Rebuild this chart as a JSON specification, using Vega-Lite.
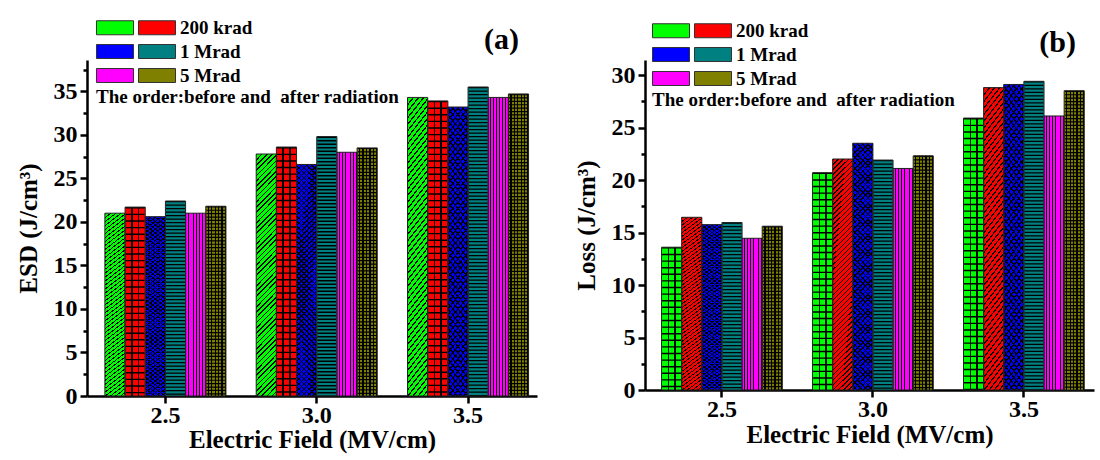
{
"$schema":"https://vega.github.io/schema/vega-lite/v6.json",
"padding":{"left":16,"top":17,"right":5,"bottom":5},
"datasets":{"d":[
{"p":"a","f":"2.5","s":"200 krad before","v":21.0},{"p":"a","f":"2.5","s":"200 krad after","v":21.7},{"p":"a","f":"2.5","s":"1 Mrad before","v":20.6},{"p":"a","f":"2.5","s":"1 Mrad after","v":22.4},{"p":"a","f":"2.5","s":"5 Mrad before","v":21.0},{"p":"a","f":"2.5","s":"5 Mrad after","v":21.8},
{"p":"a","f":"3.0","s":"200 krad before","v":27.8},{"p":"a","f":"3.0","s":"200 krad after","v":28.6},{"p":"a","f":"3.0","s":"1 Mrad before","v":26.6},{"p":"a","f":"3.0","s":"1 Mrad after","v":29.8},{"p":"a","f":"3.0","s":"5 Mrad before","v":28.0},{"p":"a","f":"3.0","s":"5 Mrad after","v":28.5},
{"p":"a","f":"3.5","s":"200 krad before","v":34.3},{"p":"a","f":"3.5","s":"200 krad after","v":33.9},{"p":"a","f":"3.5","s":"1 Mrad before","v":33.2},{"p":"a","f":"3.5","s":"1 Mrad after","v":35.5},{"p":"a","f":"3.5","s":"5 Mrad before","v":34.3},{"p":"a","f":"3.5","s":"5 Mrad after","v":34.7},
{"p":"b","f":"2.5","s":"200 krad before","v":13.6},{"p":"b","f":"2.5","s":"200 krad after","v":16.45},{"p":"b","f":"2.5","s":"1 Mrad before","v":15.75},{"p":"b","f":"2.5","s":"1 Mrad after","v":15.95},{"p":"b","f":"2.5","s":"5 Mrad before","v":14.45},{"p":"b","f":"2.5","s":"5 Mrad after","v":15.6},
{"p":"b","f":"3.0","s":"200 krad before","v":20.7},{"p":"b","f":"3.0","s":"200 krad after","v":22.0},{"p":"b","f":"3.0","s":"1 Mrad before","v":23.5},{"p":"b","f":"3.0","s":"1 Mrad after","v":21.9},{"p":"b","f":"3.0","s":"5 Mrad before","v":21.1},{"p":"b","f":"3.0","s":"5 Mrad after","v":22.3},
{"p":"b","f":"3.5","s":"200 krad before","v":25.9},{"p":"b","f":"3.5","s":"200 krad after","v":28.8},{"p":"b","f":"3.5","s":"1 Mrad before","v":29.1},{"p":"b","f":"3.5","s":"1 Mrad after","v":29.4},{"p":"b","f":"3.5","s":"5 Mrad before","v":26.1},{"p":"b","f":"3.5","s":"5 Mrad after","v":28.5}
]},
"spacing":37,
"resolve":{"scale":{"color":"independent","y":"independent","x":"independent","xOffset":"independent"},"legend":{"color":"independent"},"axis":{"x":"independent","y":"independent"}},
"hconcat":[
{
"width":450,"height":336,
"title":{"text":"(a)","dx":-18,"dy":42},
"data":{"name":"d"},
"transform":[{"filter":"datum.p==='a'"}],
"encoding":{
"x":{"field":"f","type":"nominal","sort":null,"scale":{"paddingInner":0.2,"paddingOuter":0.087,"align":0.68},"axis":{"title":"Electric Field (MV/cm)","labelAngle":0,"tickSize":7,"labelPadding":0,"titlePadding":0}},
"xOffset":{"field":"s","type":"nominal","scale":{"domain":["200 krad before","200 krad after","1 Mrad before","1 Mrad after","5 Mrad before","5 Mrad after"],"paddingInner":0,"paddingOuter":0}},
"y":{"field":"v","type":"quantitative","scale":{"domain":[0,38.6],"nice":false},"axis":{"title":"ESD (J/cm³)","values":[0,2.5,5,7.5,10,12.5,15,17.5,20,22.5,25,27.5,30,32.5,35,37.5],"labelExpr":"datum.value % 5 === 0 ? datum.label : ''","tickSize":{"condition":{"test":"datum.value % 5 === 0","value":7},"value":4},"labelPadding":3,"titlePadding":12}}
},
"layer":[
{"mark":{"type":"bar"},"encoding":{"color":{"field":"s","type":"nominal","scale":{"domain":["200 krad before","1 Mrad before","5 Mrad before","200 krad after","1 Mrad after","5 Mrad after"],"range":["#00ff00","#0000ff","#ff00ff","#ff0000","#008080","#808000"]},"legend":{"orient":"none","legendX":9,"legendY":-43,"columns":2,"symbolType":"M-1,-0.7H2.7V0.7H-1Z","symbolSize":400,"labelOffset":21,"columnPadding":-4,"rowPadding":3,"padding":0,"labelFont":"Liberation Serif","labelFontWeight":"bold","labelFontSize":19,"labelColor":"#000","labelExpr":"indexof(datum.label,'after') > 0 ? replace(datum.label,' after','') : ''","title":"The order:before and\u00a0 after radiation","titleOrient":"bottom","titleLimit":600,"titleFont":"Liberation Serif","titleFontSize":19,"titleFontWeight":"bold","titleColor":"#000","titlePadding":2,"symbolOpacity":1,"symbolStrokeColor":"#333","symbolStrokeWidth":1,"encode":{"symbols":{"update":{"stroke":{"value":"#333"},"strokeWidth":{"value":1}}}}}}}},
{"transform":[{"filter":"datum.s==='5 Mrad before'"}],"mark":{"type":"bar","fill":{"gradient":"linear","x1":0,"y1":0,"x2":1,"y2":0,"stops":[{"offset":0.1,"color":"transparent"},{"offset":0.1,"color":"#000"},{"offset":0.145,"color":"#000"},{"offset":0.145,"color":"transparent"},{"offset":0.243,"color":"transparent"},{"offset":0.243,"color":"#000"},{"offset":0.288,"color":"#000"},{"offset":0.288,"color":"transparent"},{"offset":0.386,"color":"transparent"},{"offset":0.386,"color":"#000"},{"offset":0.431,"color":"#000"},{"offset":0.431,"color":"transparent"},{"offset":0.529,"color":"transparent"},{"offset":0.529,"color":"#000"},{"offset":0.574,"color":"#000"},{"offset":0.574,"color":"transparent"},{"offset":0.671,"color":"transparent"},{"offset":0.671,"color":"#000"},{"offset":0.716,"color":"#000"},{"offset":0.716,"color":"transparent"},{"offset":0.814,"color":"transparent"},{"offset":0.814,"color":"#000"},{"offset":0.859,"color":"#000"},{"offset":0.859,"color":"transparent"},{"offset":0.957,"color":"transparent"},{"offset":0.957,"color":"#000"},{"offset":1,"color":"#000"}]}}},
{"transform":[{"filter":"datum.s==='5 Mrad after'"}],"mark":{"type":"bar","fill":{"gradient":"linear","x1":0,"y1":0,"x2":1,"y2":0,"stops":[{"offset":0.1,"color":"transparent"},{"offset":0.1,"color":"#000"},{"offset":0.165,"color":"#000"},{"offset":0.165,"color":"transparent"},{"offset":0.267,"color":"transparent"},{"offset":0.267,"color":"#000"},{"offset":0.332,"color":"#000"},{"offset":0.332,"color":"transparent"},{"offset":0.433,"color":"transparent"},{"offset":0.433,"color":"#000"},{"offset":0.498,"color":"#000"},{"offset":0.498,"color":"transparent"},{"offset":0.6,"color":"transparent"},{"offset":0.6,"color":"#000"},{"offset":0.665,"color":"#000"},{"offset":0.665,"color":"transparent"},{"offset":0.767,"color":"transparent"},{"offset":0.767,"color":"#000"},{"offset":0.832,"color":"#000"},{"offset":0.832,"color":"transparent"},{"offset":0.933,"color":"transparent"},{"offset":0.933,"color":"#000"},{"offset":0.998,"color":"#000"},{"offset":0.998,"color":"transparent"}]}}},
{"transform":[{"filter":"datum.s==='200 krad after'"}],"mark":{"type":"bar","fill":{"gradient":"linear","x1":0,"y1":0,"x2":1,"y2":0,"stops":[{"offset":0.3,"color":"transparent"},{"offset":0.3,"color":"#000"},{"offset":0.37,"color":"#000"},{"offset":0.37,"color":"transparent"},{"offset":0.63,"color":"transparent"},{"offset":0.63,"color":"#000"},{"offset":0.7,"color":"#000"},{"offset":0.7,"color":"transparent"}]}}},
{"transform":[{"filter":"datum.s==='200 krad before' || datum.s==='1 Mrad before'"}],"mark":{"type":"bar","fill":{"gradient":"linear","x1":0,"y1":0,"x2":0.0917,"y2":1.0773,"stops":[
{"offset":0,"color":"#000"},{"offset":0.006,"color":"#000"},{"offset":0.006,"color":"transparent"},{"offset":0.02,"color":"transparent"},
{"offset":0.02,"color":"#000"},{"offset":0.026,"color":"#000"},{"offset":0.026,"color":"transparent"},{"offset":0.04,"color":"transparent"},
{"offset":0.04,"color":"#000"},{"offset":0.046,"color":"#000"},{"offset":0.046,"color":"transparent"},{"offset":0.06,"color":"transparent"},
{"offset":0.06,"color":"#000"},{"offset":0.066,"color":"#000"},{"offset":0.066,"color":"transparent"},{"offset":0.08,"color":"transparent"},
{"offset":0.08,"color":"#000"},{"offset":0.086,"color":"#000"},{"offset":0.086,"color":"transparent"},{"offset":0.1,"color":"transparent"},
{"offset":0.1,"color":"#000"},{"offset":0.106,"color":"#000"},{"offset":0.106,"color":"transparent"},{"offset":0.12,"color":"transparent"},
{"offset":0.12,"color":"#000"},{"offset":0.126,"color":"#000"},{"offset":0.126,"color":"transparent"},{"offset":0.14,"color":"transparent"},
{"offset":0.14,"color":"#000"},{"offset":0.146,"color":"#000"},{"offset":0.146,"color":"transparent"},{"offset":0.16,"color":"transparent"},
{"offset":0.16,"color":"#000"},{"offset":0.166,"color":"#000"},{"offset":0.166,"color":"transparent"},{"offset":0.18,"color":"transparent"},
{"offset":0.18,"color":"#000"},{"offset":0.186,"color":"#000"},{"offset":0.186,"color":"transparent"},{"offset":0.2,"color":"transparent"},
{"offset":0.2,"color":"#000"},{"offset":0.206,"color":"#000"},{"offset":0.206,"color":"transparent"},{"offset":0.22,"color":"transparent"},
{"offset":0.22,"color":"#000"},{"offset":0.226,"color":"#000"},{"offset":0.226,"color":"transparent"},{"offset":0.24,"color":"transparent"},
{"offset":0.24,"color":"#000"},{"offset":0.246,"color":"#000"},{"offset":0.246,"color":"transparent"},{"offset":0.26,"color":"transparent"},
{"offset":0.26,"color":"#000"},{"offset":0.266,"color":"#000"},{"offset":0.266,"color":"transparent"},{"offset":0.28,"color":"transparent"},
{"offset":0.28,"color":"#000"},{"offset":0.286,"color":"#000"},{"offset":0.286,"color":"transparent"},{"offset":0.3,"color":"transparent"},
{"offset":0.3,"color":"#000"},{"offset":0.306,"color":"#000"},{"offset":0.306,"color":"transparent"},{"offset":0.32,"color":"transparent"},
{"offset":0.32,"color":"#000"},{"offset":0.326,"color":"#000"},{"offset":0.326,"color":"transparent"},{"offset":0.34,"color":"transparent"},
{"offset":0.34,"color":"#000"},{"offset":0.346,"color":"#000"},{"offset":0.346,"color":"transparent"},{"offset":0.36,"color":"transparent"},
{"offset":0.36,"color":"#000"},{"offset":0.366,"color":"#000"},{"offset":0.366,"color":"transparent"},{"offset":0.38,"color":"transparent"},
{"offset":0.38,"color":"#000"},{"offset":0.386,"color":"#000"},{"offset":0.386,"color":"transparent"},{"offset":0.4,"color":"transparent"},
{"offset":0.4,"color":"#000"},{"offset":0.406,"color":"#000"},{"offset":0.406,"color":"transparent"},{"offset":0.42,"color":"transparent"},
{"offset":0.42,"color":"#000"},{"offset":0.426,"color":"#000"},{"offset":0.426,"color":"transparent"},{"offset":0.44,"color":"transparent"},
{"offset":0.44,"color":"#000"},{"offset":0.446,"color":"#000"},{"offset":0.446,"color":"transparent"},{"offset":0.46,"color":"transparent"},
{"offset":0.46,"color":"#000"},{"offset":0.466,"color":"#000"},{"offset":0.466,"color":"transparent"},{"offset":0.48,"color":"transparent"},
{"offset":0.48,"color":"#000"},{"offset":0.486,"color":"#000"},{"offset":0.486,"color":"transparent"},{"offset":0.5,"color":"transparent"},
{"offset":0.5,"color":"#000"},{"offset":0.506,"color":"#000"},{"offset":0.506,"color":"transparent"},{"offset":0.52,"color":"transparent"},
{"offset":0.52,"color":"#000"},{"offset":0.526,"color":"#000"},{"offset":0.526,"color":"transparent"},{"offset":0.54,"color":"transparent"},
{"offset":0.54,"color":"#000"},{"offset":0.546,"color":"#000"},{"offset":0.546,"color":"transparent"},{"offset":0.56,"color":"transparent"},
{"offset":0.56,"color":"#000"},{"offset":0.566,"color":"#000"},{"offset":0.566,"color":"transparent"},{"offset":0.58,"color":"transparent"},
{"offset":0.58,"color":"#000"},{"offset":0.586,"color":"#000"},{"offset":0.586,"color":"transparent"},{"offset":0.6,"color":"transparent"},
{"offset":0.6,"color":"#000"},{"offset":0.606,"color":"#000"},{"offset":0.606,"color":"transparent"},{"offset":0.62,"color":"transparent"},
{"offset":0.62,"color":"#000"},{"offset":0.626,"color":"#000"},{"offset":0.626,"color":"transparent"},{"offset":0.64,"color":"transparent"},
{"offset":0.64,"color":"#000"},{"offset":0.646,"color":"#000"},{"offset":0.646,"color":"transparent"},{"offset":0.66,"color":"transparent"},
{"offset":0.66,"color":"#000"},{"offset":0.666,"color":"#000"},{"offset":0.666,"color":"transparent"},{"offset":0.68,"color":"transparent"},
{"offset":0.68,"color":"#000"},{"offset":0.686,"color":"#000"},{"offset":0.686,"color":"transparent"},{"offset":0.7,"color":"transparent"},
{"offset":0.7,"color":"#000"},{"offset":0.706,"color":"#000"},{"offset":0.706,"color":"transparent"},{"offset":0.72,"color":"transparent"},
{"offset":0.72,"color":"#000"},{"offset":0.726,"color":"#000"},{"offset":0.726,"color":"transparent"},{"offset":0.74,"color":"transparent"},
{"offset":0.74,"color":"#000"},{"offset":0.746,"color":"#000"},{"offset":0.746,"color":"transparent"},{"offset":0.76,"color":"transparent"},
{"offset":0.76,"color":"#000"},{"offset":0.766,"color":"#000"},{"offset":0.766,"color":"transparent"},{"offset":0.78,"color":"transparent"},
{"offset":0.78,"color":"#000"},{"offset":0.786,"color":"#000"},{"offset":0.786,"color":"transparent"},{"offset":0.8,"color":"transparent"},
{"offset":0.8,"color":"#000"},{"offset":0.806,"color":"#000"},{"offset":0.806,"color":"transparent"},{"offset":0.82,"color":"transparent"},
{"offset":0.82,"color":"#000"},{"offset":0.826,"color":"#000"},{"offset":0.826,"color":"transparent"},{"offset":0.84,"color":"transparent"},
{"offset":0.84,"color":"#000"},{"offset":0.846,"color":"#000"},{"offset":0.846,"color":"transparent"},{"offset":0.86,"color":"transparent"},
{"offset":0.86,"color":"#000"},{"offset":0.866,"color":"#000"},{"offset":0.866,"color":"transparent"},{"offset":0.88,"color":"transparent"},
{"offset":0.88,"color":"#000"},{"offset":0.886,"color":"#000"},{"offset":0.886,"color":"transparent"},{"offset":0.9,"color":"transparent"},
{"offset":0.9,"color":"#000"},{"offset":0.906,"color":"#000"},{"offset":0.906,"color":"transparent"},{"offset":0.92,"color":"transparent"},
{"offset":0.92,"color":"#000"},{"offset":0.926,"color":"#000"},{"offset":0.926,"color":"transparent"},{"offset":0.94,"color":"transparent"},
{"offset":0.94,"color":"#000"},{"offset":0.946,"color":"#000"},{"offset":0.946,"color":"transparent"},{"offset":0.96,"color":"transparent"},
{"offset":0.96,"color":"#000"},{"offset":0.966,"color":"#000"},{"offset":0.966,"color":"transparent"},{"offset":0.98,"color":"transparent"},
{"offset":0.98,"color":"#000"},{"offset":0.986,"color":"#000"},{"offset":0.986,"color":"transparent"},{"offset":1,"color":"transparent"}
]}}},
{"transform":[{"filter":"datum.s==='1 Mrad before'"}],"mark":{"type":"bar","fill":{"gradient":"linear","x1":1,"y1":0,"x2":0.9083,"y2":1.0773,"stops":[
{"offset":0,"color":"#000"},{"offset":0.006,"color":"#000"},{"offset":0.006,"color":"transparent"},{"offset":0.02,"color":"transparent"},
{"offset":0.02,"color":"#000"},{"offset":0.026,"color":"#000"},{"offset":0.026,"color":"transparent"},{"offset":0.04,"color":"transparent"},
{"offset":0.04,"color":"#000"},{"offset":0.046,"color":"#000"},{"offset":0.046,"color":"transparent"},{"offset":0.06,"color":"transparent"},
{"offset":0.06,"color":"#000"},{"offset":0.066,"color":"#000"},{"offset":0.066,"color":"transparent"},{"offset":0.08,"color":"transparent"},
{"offset":0.08,"color":"#000"},{"offset":0.086,"color":"#000"},{"offset":0.086,"color":"transparent"},{"offset":0.1,"color":"transparent"},
{"offset":0.1,"color":"#000"},{"offset":0.106,"color":"#000"},{"offset":0.106,"color":"transparent"},{"offset":0.12,"color":"transparent"},
{"offset":0.12,"color":"#000"},{"offset":0.126,"color":"#000"},{"offset":0.126,"color":"transparent"},{"offset":0.14,"color":"transparent"},
{"offset":0.14,"color":"#000"},{"offset":0.146,"color":"#000"},{"offset":0.146,"color":"transparent"},{"offset":0.16,"color":"transparent"},
{"offset":0.16,"color":"#000"},{"offset":0.166,"color":"#000"},{"offset":0.166,"color":"transparent"},{"offset":0.18,"color":"transparent"},
{"offset":0.18,"color":"#000"},{"offset":0.186,"color":"#000"},{"offset":0.186,"color":"transparent"},{"offset":0.2,"color":"transparent"},
{"offset":0.2,"color":"#000"},{"offset":0.206,"color":"#000"},{"offset":0.206,"color":"transparent"},{"offset":0.22,"color":"transparent"},
{"offset":0.22,"color":"#000"},{"offset":0.226,"color":"#000"},{"offset":0.226,"color":"transparent"},{"offset":0.24,"color":"transparent"},
{"offset":0.24,"color":"#000"},{"offset":0.246,"color":"#000"},{"offset":0.246,"color":"transparent"},{"offset":0.26,"color":"transparent"},
{"offset":0.26,"color":"#000"},{"offset":0.266,"color":"#000"},{"offset":0.266,"color":"transparent"},{"offset":0.28,"color":"transparent"},
{"offset":0.28,"color":"#000"},{"offset":0.286,"color":"#000"},{"offset":0.286,"color":"transparent"},{"offset":0.3,"color":"transparent"},
{"offset":0.3,"color":"#000"},{"offset":0.306,"color":"#000"},{"offset":0.306,"color":"transparent"},{"offset":0.32,"color":"transparent"},
{"offset":0.32,"color":"#000"},{"offset":0.326,"color":"#000"},{"offset":0.326,"color":"transparent"},{"offset":0.34,"color":"transparent"},
{"offset":0.34,"color":"#000"},{"offset":0.346,"color":"#000"},{"offset":0.346,"color":"transparent"},{"offset":0.36,"color":"transparent"},
{"offset":0.36,"color":"#000"},{"offset":0.366,"color":"#000"},{"offset":0.366,"color":"transparent"},{"offset":0.38,"color":"transparent"},
{"offset":0.38,"color":"#000"},{"offset":0.386,"color":"#000"},{"offset":0.386,"color":"transparent"},{"offset":0.4,"color":"transparent"},
{"offset":0.4,"color":"#000"},{"offset":0.406,"color":"#000"},{"offset":0.406,"color":"transparent"},{"offset":0.42,"color":"transparent"},
{"offset":0.42,"color":"#000"},{"offset":0.426,"color":"#000"},{"offset":0.426,"color":"transparent"},{"offset":0.44,"color":"transparent"},
{"offset":0.44,"color":"#000"},{"offset":0.446,"color":"#000"},{"offset":0.446,"color":"transparent"},{"offset":0.46,"color":"transparent"},
{"offset":0.46,"color":"#000"},{"offset":0.466,"color":"#000"},{"offset":0.466,"color":"transparent"},{"offset":0.48,"color":"transparent"},
{"offset":0.48,"color":"#000"},{"offset":0.486,"color":"#000"},{"offset":0.486,"color":"transparent"},{"offset":0.5,"color":"transparent"},
{"offset":0.5,"color":"#000"},{"offset":0.506,"color":"#000"},{"offset":0.506,"color":"transparent"},{"offset":0.52,"color":"transparent"},
{"offset":0.52,"color":"#000"},{"offset":0.526,"color":"#000"},{"offset":0.526,"color":"transparent"},{"offset":0.54,"color":"transparent"},
{"offset":0.54,"color":"#000"},{"offset":0.546,"color":"#000"},{"offset":0.546,"color":"transparent"},{"offset":0.56,"color":"transparent"},
{"offset":0.56,"color":"#000"},{"offset":0.566,"color":"#000"},{"offset":0.566,"color":"transparent"},{"offset":0.58,"color":"transparent"},
{"offset":0.58,"color":"#000"},{"offset":0.586,"color":"#000"},{"offset":0.586,"color":"transparent"},{"offset":0.6,"color":"transparent"},
{"offset":0.6,"color":"#000"},{"offset":0.606,"color":"#000"},{"offset":0.606,"color":"transparent"},{"offset":0.62,"color":"transparent"},
{"offset":0.62,"color":"#000"},{"offset":0.626,"color":"#000"},{"offset":0.626,"color":"transparent"},{"offset":0.64,"color":"transparent"},
{"offset":0.64,"color":"#000"},{"offset":0.646,"color":"#000"},{"offset":0.646,"color":"transparent"},{"offset":0.66,"color":"transparent"},
{"offset":0.66,"color":"#000"},{"offset":0.666,"color":"#000"},{"offset":0.666,"color":"transparent"},{"offset":0.68,"color":"transparent"},
{"offset":0.68,"color":"#000"},{"offset":0.686,"color":"#000"},{"offset":0.686,"color":"transparent"},{"offset":0.7,"color":"transparent"},
{"offset":0.7,"color":"#000"},{"offset":0.706,"color":"#000"},{"offset":0.706,"color":"transparent"},{"offset":0.72,"color":"transparent"},
{"offset":0.72,"color":"#000"},{"offset":0.726,"color":"#000"},{"offset":0.726,"color":"transparent"},{"offset":0.74,"color":"transparent"},
{"offset":0.74,"color":"#000"},{"offset":0.746,"color":"#000"},{"offset":0.746,"color":"transparent"},{"offset":0.76,"color":"transparent"},
{"offset":0.76,"color":"#000"},{"offset":0.766,"color":"#000"},{"offset":0.766,"color":"transparent"},{"offset":0.78,"color":"transparent"},
{"offset":0.78,"color":"#000"},{"offset":0.786,"color":"#000"},{"offset":0.786,"color":"transparent"},{"offset":0.8,"color":"transparent"},
{"offset":0.8,"color":"#000"},{"offset":0.806,"color":"#000"},{"offset":0.806,"color":"transparent"},{"offset":0.82,"color":"transparent"},
{"offset":0.82,"color":"#000"},{"offset":0.826,"color":"#000"},{"offset":0.826,"color":"transparent"},{"offset":0.84,"color":"transparent"},
{"offset":0.84,"color":"#000"},{"offset":0.846,"color":"#000"},{"offset":0.846,"color":"transparent"},{"offset":0.86,"color":"transparent"},
{"offset":0.86,"color":"#000"},{"offset":0.866,"color":"#000"},{"offset":0.866,"color":"transparent"},{"offset":0.88,"color":"transparent"},
{"offset":0.88,"color":"#000"},{"offset":0.886,"color":"#000"},{"offset":0.886,"color":"transparent"},{"offset":0.9,"color":"transparent"},
{"offset":0.9,"color":"#000"},{"offset":0.906,"color":"#000"},{"offset":0.906,"color":"transparent"},{"offset":0.92,"color":"transparent"},
{"offset":0.92,"color":"#000"},{"offset":0.926,"color":"#000"},{"offset":0.926,"color":"transparent"},{"offset":0.94,"color":"transparent"},
{"offset":0.94,"color":"#000"},{"offset":0.946,"color":"#000"},{"offset":0.946,"color":"transparent"},{"offset":0.96,"color":"transparent"},
{"offset":0.96,"color":"#000"},{"offset":0.966,"color":"#000"},{"offset":0.966,"color":"transparent"},{"offset":0.98,"color":"transparent"},
{"offset":0.98,"color":"#000"},{"offset":0.986,"color":"#000"},{"offset":0.986,"color":"transparent"},{"offset":1,"color":"transparent"}
]}}},
{"transform":[{"filter":"datum.s==='1 Mrad after'"}],"mark":{"type":"rule","color":"#000","strokeWidth":19,"strokeDash":[1.3,2.2],"strokeCap":"butt"},"encoding":{"y2":{"datum":0}}},
{"transform":[{"filter":"datum.s==='5 Mrad after'"}],"mark":{"type":"rule","color":"#000","strokeWidth":19,"strokeDash":[1.2,2.2],"strokeCap":"butt"},"encoding":{"y2":{"datum":0}}},
{"transform":[{"filter":"datum.s==='200 krad after'"}],"mark":{"type":"rule","color":"#000","strokeWidth":19,"strokeDash":[1.4,5.2],"strokeCap":"butt"},"encoding":{"y2":{"datum":0}}},
{"mark":{"type":"bar","fillOpacity":0,"stroke":"#222","strokeWidth":1}}
]
},
{
"width":449,"height":330,
"title":{"text":"(b)","dx":-18,"dy":42},
"data":{"name":"d"},
"transform":[{"filter":"datum.p==='b'"}],
"encoding":{
"x":{"field":"f","type":"nominal","sort":null,"scale":{"paddingInner":0.2,"paddingOuter":0.087,"align":0.63},"axis":{"title":"Electric Field (MV/cm)","labelAngle":0,"tickSize":7,"labelPadding":0,"titlePadding":1}},
"xOffset":{"field":"s","type":"nominal","scale":{"domain":["200 krad before","200 krad after","1 Mrad before","1 Mrad after","5 Mrad before","5 Mrad after"],"paddingInner":0,"paddingOuter":0}},
"y":{"field":"v","type":"quantitative","scale":{"domain":[0,31.43],"nice":false},"axis":{"title":"Loss (J/cm³)","values":[0,2.5,5,7.5,10,12.5,15,17.5,20,22.5,25,27.5,30],"labelExpr":"datum.value % 5 === 0 ? datum.label : ''","tickSize":{"condition":{"test":"datum.value % 5 === 0","value":7},"value":4},"labelPadding":3,"titlePadding":12}}
},
"layer":[
{"mark":{"type":"bar"},"encoding":{"color":{"field":"s","type":"nominal","scale":{"domain":["200 krad before","1 Mrad before","5 Mrad before","200 krad after","1 Mrad after","5 Mrad after"],"range":["#00ff00","#0000ff","#ff00ff","#ff0000","#008080","#808000"]},"legend":{"orient":"none","legendX":7,"legendY":-40,"columns":2,"symbolType":"M-1,-0.7H2.7V0.7H-1Z","symbolSize":400,"labelOffset":21,"columnPadding":-4,"rowPadding":3,"padding":0,"labelFont":"Liberation Serif","labelFontWeight":"bold","labelFontSize":19,"labelColor":"#000","labelExpr":"indexof(datum.label,'after') > 0 ? replace(datum.label,' after','') : ''","title":"The order:before and\u00a0 after radiation","titleOrient":"bottom","titleLimit":600,"titleFont":"Liberation Serif","titleFontSize":19,"titleFontWeight":"bold","titleColor":"#000","titlePadding":2,"symbolOpacity":1,"symbolStrokeColor":"#333","symbolStrokeWidth":1,"encode":{"symbols":{"update":{"stroke":{"value":"#333"},"strokeWidth":{"value":1}}}}}}}},
{"transform":[{"filter":"datum.s==='5 Mrad before'"}],"mark":{"type":"bar","fill":{"gradient":"linear","x1":0,"y1":0,"x2":1,"y2":0,"stops":[{"offset":0.1,"color":"transparent"},{"offset":0.1,"color":"#000"},{"offset":0.145,"color":"#000"},{"offset":0.145,"color":"transparent"},{"offset":0.243,"color":"transparent"},{"offset":0.243,"color":"#000"},{"offset":0.288,"color":"#000"},{"offset":0.288,"color":"transparent"},{"offset":0.386,"color":"transparent"},{"offset":0.386,"color":"#000"},{"offset":0.431,"color":"#000"},{"offset":0.431,"color":"transparent"},{"offset":0.529,"color":"transparent"},{"offset":0.529,"color":"#000"},{"offset":0.574,"color":"#000"},{"offset":0.574,"color":"transparent"},{"offset":0.671,"color":"transparent"},{"offset":0.671,"color":"#000"},{"offset":0.716,"color":"#000"},{"offset":0.716,"color":"transparent"},{"offset":0.814,"color":"transparent"},{"offset":0.814,"color":"#000"},{"offset":0.859,"color":"#000"},{"offset":0.859,"color":"transparent"},{"offset":0.957,"color":"transparent"},{"offset":0.957,"color":"#000"},{"offset":1,"color":"#000"}]}}},
{"transform":[{"filter":"datum.s==='5 Mrad after'"}],"mark":{"type":"bar","fill":{"gradient":"linear","x1":0,"y1":0,"x2":1,"y2":0,"stops":[{"offset":0.1,"color":"transparent"},{"offset":0.1,"color":"#000"},{"offset":0.165,"color":"#000"},{"offset":0.165,"color":"transparent"},{"offset":0.267,"color":"transparent"},{"offset":0.267,"color":"#000"},{"offset":0.332,"color":"#000"},{"offset":0.332,"color":"transparent"},{"offset":0.433,"color":"transparent"},{"offset":0.433,"color":"#000"},{"offset":0.498,"color":"#000"},{"offset":0.498,"color":"transparent"},{"offset":0.6,"color":"transparent"},{"offset":0.6,"color":"#000"},{"offset":0.665,"color":"#000"},{"offset":0.665,"color":"transparent"},{"offset":0.767,"color":"transparent"},{"offset":0.767,"color":"#000"},{"offset":0.832,"color":"#000"},{"offset":0.832,"color":"transparent"},{"offset":0.933,"color":"transparent"},{"offset":0.933,"color":"#000"},{"offset":0.998,"color":"#000"},{"offset":0.998,"color":"transparent"}]}}},
{"transform":[{"filter":"datum.s==='200 krad before'"}],"mark":{"type":"bar","fill":{"gradient":"linear","x1":0,"y1":0,"x2":1,"y2":0,"stops":[{"offset":0.3,"color":"transparent"},{"offset":0.3,"color":"#000"},{"offset":0.37,"color":"#000"},{"offset":0.37,"color":"transparent"},{"offset":0.63,"color":"transparent"},{"offset":0.63,"color":"#000"},{"offset":0.7,"color":"#000"},{"offset":0.7,"color":"transparent"}]}}},
{"transform":[{"filter":"datum.s==='200 krad after' || datum.s==='1 Mrad before'"}],"mark":{"type":"bar","fill":{"gradient":"linear","x1":0,"y1":0,"x2":0.0917,"y2":1.0773,"stops":[
{"offset":0,"color":"#000"},{"offset":0.006,"color":"#000"},{"offset":0.006,"color":"transparent"},{"offset":0.02,"color":"transparent"},
{"offset":0.02,"color":"#000"},{"offset":0.026,"color":"#000"},{"offset":0.026,"color":"transparent"},{"offset":0.04,"color":"transparent"},
{"offset":0.04,"color":"#000"},{"offset":0.046,"color":"#000"},{"offset":0.046,"color":"transparent"},{"offset":0.06,"color":"transparent"},
{"offset":0.06,"color":"#000"},{"offset":0.066,"color":"#000"},{"offset":0.066,"color":"transparent"},{"offset":0.08,"color":"transparent"},
{"offset":0.08,"color":"#000"},{"offset":0.086,"color":"#000"},{"offset":0.086,"color":"transparent"},{"offset":0.1,"color":"transparent"},
{"offset":0.1,"color":"#000"},{"offset":0.106,"color":"#000"},{"offset":0.106,"color":"transparent"},{"offset":0.12,"color":"transparent"},
{"offset":0.12,"color":"#000"},{"offset":0.126,"color":"#000"},{"offset":0.126,"color":"transparent"},{"offset":0.14,"color":"transparent"},
{"offset":0.14,"color":"#000"},{"offset":0.146,"color":"#000"},{"offset":0.146,"color":"transparent"},{"offset":0.16,"color":"transparent"},
{"offset":0.16,"color":"#000"},{"offset":0.166,"color":"#000"},{"offset":0.166,"color":"transparent"},{"offset":0.18,"color":"transparent"},
{"offset":0.18,"color":"#000"},{"offset":0.186,"color":"#000"},{"offset":0.186,"color":"transparent"},{"offset":0.2,"color":"transparent"},
{"offset":0.2,"color":"#000"},{"offset":0.206,"color":"#000"},{"offset":0.206,"color":"transparent"},{"offset":0.22,"color":"transparent"},
{"offset":0.22,"color":"#000"},{"offset":0.226,"color":"#000"},{"offset":0.226,"color":"transparent"},{"offset":0.24,"color":"transparent"},
{"offset":0.24,"color":"#000"},{"offset":0.246,"color":"#000"},{"offset":0.246,"color":"transparent"},{"offset":0.26,"color":"transparent"},
{"offset":0.26,"color":"#000"},{"offset":0.266,"color":"#000"},{"offset":0.266,"color":"transparent"},{"offset":0.28,"color":"transparent"},
{"offset":0.28,"color":"#000"},{"offset":0.286,"color":"#000"},{"offset":0.286,"color":"transparent"},{"offset":0.3,"color":"transparent"},
{"offset":0.3,"color":"#000"},{"offset":0.306,"color":"#000"},{"offset":0.306,"color":"transparent"},{"offset":0.32,"color":"transparent"},
{"offset":0.32,"color":"#000"},{"offset":0.326,"color":"#000"},{"offset":0.326,"color":"transparent"},{"offset":0.34,"color":"transparent"},
{"offset":0.34,"color":"#000"},{"offset":0.346,"color":"#000"},{"offset":0.346,"color":"transparent"},{"offset":0.36,"color":"transparent"},
{"offset":0.36,"color":"#000"},{"offset":0.366,"color":"#000"},{"offset":0.366,"color":"transparent"},{"offset":0.38,"color":"transparent"},
{"offset":0.38,"color":"#000"},{"offset":0.386,"color":"#000"},{"offset":0.386,"color":"transparent"},{"offset":0.4,"color":"transparent"},
{"offset":0.4,"color":"#000"},{"offset":0.406,"color":"#000"},{"offset":0.406,"color":"transparent"},{"offset":0.42,"color":"transparent"},
{"offset":0.42,"color":"#000"},{"offset":0.426,"color":"#000"},{"offset":0.426,"color":"transparent"},{"offset":0.44,"color":"transparent"},
{"offset":0.44,"color":"#000"},{"offset":0.446,"color":"#000"},{"offset":0.446,"color":"transparent"},{"offset":0.46,"color":"transparent"},
{"offset":0.46,"color":"#000"},{"offset":0.466,"color":"#000"},{"offset":0.466,"color":"transparent"},{"offset":0.48,"color":"transparent"},
{"offset":0.48,"color":"#000"},{"offset":0.486,"color":"#000"},{"offset":0.486,"color":"transparent"},{"offset":0.5,"color":"transparent"},
{"offset":0.5,"color":"#000"},{"offset":0.506,"color":"#000"},{"offset":0.506,"color":"transparent"},{"offset":0.52,"color":"transparent"},
{"offset":0.52,"color":"#000"},{"offset":0.526,"color":"#000"},{"offset":0.526,"color":"transparent"},{"offset":0.54,"color":"transparent"},
{"offset":0.54,"color":"#000"},{"offset":0.546,"color":"#000"},{"offset":0.546,"color":"transparent"},{"offset":0.56,"color":"transparent"},
{"offset":0.56,"color":"#000"},{"offset":0.566,"color":"#000"},{"offset":0.566,"color":"transparent"},{"offset":0.58,"color":"transparent"},
{"offset":0.58,"color":"#000"},{"offset":0.586,"color":"#000"},{"offset":0.586,"color":"transparent"},{"offset":0.6,"color":"transparent"},
{"offset":0.6,"color":"#000"},{"offset":0.606,"color":"#000"},{"offset":0.606,"color":"transparent"},{"offset":0.62,"color":"transparent"},
{"offset":0.62,"color":"#000"},{"offset":0.626,"color":"#000"},{"offset":0.626,"color":"transparent"},{"offset":0.64,"color":"transparent"},
{"offset":0.64,"color":"#000"},{"offset":0.646,"color":"#000"},{"offset":0.646,"color":"transparent"},{"offset":0.66,"color":"transparent"},
{"offset":0.66,"color":"#000"},{"offset":0.666,"color":"#000"},{"offset":0.666,"color":"transparent"},{"offset":0.68,"color":"transparent"},
{"offset":0.68,"color":"#000"},{"offset":0.686,"color":"#000"},{"offset":0.686,"color":"transparent"},{"offset":0.7,"color":"transparent"},
{"offset":0.7,"color":"#000"},{"offset":0.706,"color":"#000"},{"offset":0.706,"color":"transparent"},{"offset":0.72,"color":"transparent"},
{"offset":0.72,"color":"#000"},{"offset":0.726,"color":"#000"},{"offset":0.726,"color":"transparent"},{"offset":0.74,"color":"transparent"},
{"offset":0.74,"color":"#000"},{"offset":0.746,"color":"#000"},{"offset":0.746,"color":"transparent"},{"offset":0.76,"color":"transparent"},
{"offset":0.76,"color":"#000"},{"offset":0.766,"color":"#000"},{"offset":0.766,"color":"transparent"},{"offset":0.78,"color":"transparent"},
{"offset":0.78,"color":"#000"},{"offset":0.786,"color":"#000"},{"offset":0.786,"color":"transparent"},{"offset":0.8,"color":"transparent"},
{"offset":0.8,"color":"#000"},{"offset":0.806,"color":"#000"},{"offset":0.806,"color":"transparent"},{"offset":0.82,"color":"transparent"},
{"offset":0.82,"color":"#000"},{"offset":0.826,"color":"#000"},{"offset":0.826,"color":"transparent"},{"offset":0.84,"color":"transparent"},
{"offset":0.84,"color":"#000"},{"offset":0.846,"color":"#000"},{"offset":0.846,"color":"transparent"},{"offset":0.86,"color":"transparent"},
{"offset":0.86,"color":"#000"},{"offset":0.866,"color":"#000"},{"offset":0.866,"color":"transparent"},{"offset":0.88,"color":"transparent"},
{"offset":0.88,"color":"#000"},{"offset":0.886,"color":"#000"},{"offset":0.886,"color":"transparent"},{"offset":0.9,"color":"transparent"},
{"offset":0.9,"color":"#000"},{"offset":0.906,"color":"#000"},{"offset":0.906,"color":"transparent"},{"offset":0.92,"color":"transparent"},
{"offset":0.92,"color":"#000"},{"offset":0.926,"color":"#000"},{"offset":0.926,"color":"transparent"},{"offset":0.94,"color":"transparent"},
{"offset":0.94,"color":"#000"},{"offset":0.946,"color":"#000"},{"offset":0.946,"color":"transparent"},{"offset":0.96,"color":"transparent"},
{"offset":0.96,"color":"#000"},{"offset":0.966,"color":"#000"},{"offset":0.966,"color":"transparent"},{"offset":0.98,"color":"transparent"},
{"offset":0.98,"color":"#000"},{"offset":0.986,"color":"#000"},{"offset":0.986,"color":"transparent"},{"offset":1,"color":"transparent"}
]}}},
{"transform":[{"filter":"datum.s==='1 Mrad before'"}],"mark":{"type":"bar","fill":{"gradient":"linear","x1":1,"y1":0,"x2":0.9083,"y2":1.0773,"stops":[
{"offset":0,"color":"#000"},{"offset":0.006,"color":"#000"},{"offset":0.006,"color":"transparent"},{"offset":0.02,"color":"transparent"},
{"offset":0.02,"color":"#000"},{"offset":0.026,"color":"#000"},{"offset":0.026,"color":"transparent"},{"offset":0.04,"color":"transparent"},
{"offset":0.04,"color":"#000"},{"offset":0.046,"color":"#000"},{"offset":0.046,"color":"transparent"},{"offset":0.06,"color":"transparent"},
{"offset":0.06,"color":"#000"},{"offset":0.066,"color":"#000"},{"offset":0.066,"color":"transparent"},{"offset":0.08,"color":"transparent"},
{"offset":0.08,"color":"#000"},{"offset":0.086,"color":"#000"},{"offset":0.086,"color":"transparent"},{"offset":0.1,"color":"transparent"},
{"offset":0.1,"color":"#000"},{"offset":0.106,"color":"#000"},{"offset":0.106,"color":"transparent"},{"offset":0.12,"color":"transparent"},
{"offset":0.12,"color":"#000"},{"offset":0.126,"color":"#000"},{"offset":0.126,"color":"transparent"},{"offset":0.14,"color":"transparent"},
{"offset":0.14,"color":"#000"},{"offset":0.146,"color":"#000"},{"offset":0.146,"color":"transparent"},{"offset":0.16,"color":"transparent"},
{"offset":0.16,"color":"#000"},{"offset":0.166,"color":"#000"},{"offset":0.166,"color":"transparent"},{"offset":0.18,"color":"transparent"},
{"offset":0.18,"color":"#000"},{"offset":0.186,"color":"#000"},{"offset":0.186,"color":"transparent"},{"offset":0.2,"color":"transparent"},
{"offset":0.2,"color":"#000"},{"offset":0.206,"color":"#000"},{"offset":0.206,"color":"transparent"},{"offset":0.22,"color":"transparent"},
{"offset":0.22,"color":"#000"},{"offset":0.226,"color":"#000"},{"offset":0.226,"color":"transparent"},{"offset":0.24,"color":"transparent"},
{"offset":0.24,"color":"#000"},{"offset":0.246,"color":"#000"},{"offset":0.246,"color":"transparent"},{"offset":0.26,"color":"transparent"},
{"offset":0.26,"color":"#000"},{"offset":0.266,"color":"#000"},{"offset":0.266,"color":"transparent"},{"offset":0.28,"color":"transparent"},
{"offset":0.28,"color":"#000"},{"offset":0.286,"color":"#000"},{"offset":0.286,"color":"transparent"},{"offset":0.3,"color":"transparent"},
{"offset":0.3,"color":"#000"},{"offset":0.306,"color":"#000"},{"offset":0.306,"color":"transparent"},{"offset":0.32,"color":"transparent"},
{"offset":0.32,"color":"#000"},{"offset":0.326,"color":"#000"},{"offset":0.326,"color":"transparent"},{"offset":0.34,"color":"transparent"},
{"offset":0.34,"color":"#000"},{"offset":0.346,"color":"#000"},{"offset":0.346,"color":"transparent"},{"offset":0.36,"color":"transparent"},
{"offset":0.36,"color":"#000"},{"offset":0.366,"color":"#000"},{"offset":0.366,"color":"transparent"},{"offset":0.38,"color":"transparent"},
{"offset":0.38,"color":"#000"},{"offset":0.386,"color":"#000"},{"offset":0.386,"color":"transparent"},{"offset":0.4,"color":"transparent"},
{"offset":0.4,"color":"#000"},{"offset":0.406,"color":"#000"},{"offset":0.406,"color":"transparent"},{"offset":0.42,"color":"transparent"},
{"offset":0.42,"color":"#000"},{"offset":0.426,"color":"#000"},{"offset":0.426,"color":"transparent"},{"offset":0.44,"color":"transparent"},
{"offset":0.44,"color":"#000"},{"offset":0.446,"color":"#000"},{"offset":0.446,"color":"transparent"},{"offset":0.46,"color":"transparent"},
{"offset":0.46,"color":"#000"},{"offset":0.466,"color":"#000"},{"offset":0.466,"color":"transparent"},{"offset":0.48,"color":"transparent"},
{"offset":0.48,"color":"#000"},{"offset":0.486,"color":"#000"},{"offset":0.486,"color":"transparent"},{"offset":0.5,"color":"transparent"},
{"offset":0.5,"color":"#000"},{"offset":0.506,"color":"#000"},{"offset":0.506,"color":"transparent"},{"offset":0.52,"color":"transparent"},
{"offset":0.52,"color":"#000"},{"offset":0.526,"color":"#000"},{"offset":0.526,"color":"transparent"},{"offset":0.54,"color":"transparent"},
{"offset":0.54,"color":"#000"},{"offset":0.546,"color":"#000"},{"offset":0.546,"color":"transparent"},{"offset":0.56,"color":"transparent"},
{"offset":0.56,"color":"#000"},{"offset":0.566,"color":"#000"},{"offset":0.566,"color":"transparent"},{"offset":0.58,"color":"transparent"},
{"offset":0.58,"color":"#000"},{"offset":0.586,"color":"#000"},{"offset":0.586,"color":"transparent"},{"offset":0.6,"color":"transparent"},
{"offset":0.6,"color":"#000"},{"offset":0.606,"color":"#000"},{"offset":0.606,"color":"transparent"},{"offset":0.62,"color":"transparent"},
{"offset":0.62,"color":"#000"},{"offset":0.626,"color":"#000"},{"offset":0.626,"color":"transparent"},{"offset":0.64,"color":"transparent"},
{"offset":0.64,"color":"#000"},{"offset":0.646,"color":"#000"},{"offset":0.646,"color":"transparent"},{"offset":0.66,"color":"transparent"},
{"offset":0.66,"color":"#000"},{"offset":0.666,"color":"#000"},{"offset":0.666,"color":"transparent"},{"offset":0.68,"color":"transparent"},
{"offset":0.68,"color":"#000"},{"offset":0.686,"color":"#000"},{"offset":0.686,"color":"transparent"},{"offset":0.7,"color":"transparent"},
{"offset":0.7,"color":"#000"},{"offset":0.706,"color":"#000"},{"offset":0.706,"color":"transparent"},{"offset":0.72,"color":"transparent"},
{"offset":0.72,"color":"#000"},{"offset":0.726,"color":"#000"},{"offset":0.726,"color":"transparent"},{"offset":0.74,"color":"transparent"},
{"offset":0.74,"color":"#000"},{"offset":0.746,"color":"#000"},{"offset":0.746,"color":"transparent"},{"offset":0.76,"color":"transparent"},
{"offset":0.76,"color":"#000"},{"offset":0.766,"color":"#000"},{"offset":0.766,"color":"transparent"},{"offset":0.78,"color":"transparent"},
{"offset":0.78,"color":"#000"},{"offset":0.786,"color":"#000"},{"offset":0.786,"color":"transparent"},{"offset":0.8,"color":"transparent"},
{"offset":0.8,"color":"#000"},{"offset":0.806,"color":"#000"},{"offset":0.806,"color":"transparent"},{"offset":0.82,"color":"transparent"},
{"offset":0.82,"color":"#000"},{"offset":0.826,"color":"#000"},{"offset":0.826,"color":"transparent"},{"offset":0.84,"color":"transparent"},
{"offset":0.84,"color":"#000"},{"offset":0.846,"color":"#000"},{"offset":0.846,"color":"transparent"},{"offset":0.86,"color":"transparent"},
{"offset":0.86,"color":"#000"},{"offset":0.866,"color":"#000"},{"offset":0.866,"color":"transparent"},{"offset":0.88,"color":"transparent"},
{"offset":0.88,"color":"#000"},{"offset":0.886,"color":"#000"},{"offset":0.886,"color":"transparent"},{"offset":0.9,"color":"transparent"},
{"offset":0.9,"color":"#000"},{"offset":0.906,"color":"#000"},{"offset":0.906,"color":"transparent"},{"offset":0.92,"color":"transparent"},
{"offset":0.92,"color":"#000"},{"offset":0.926,"color":"#000"},{"offset":0.926,"color":"transparent"},{"offset":0.94,"color":"transparent"},
{"offset":0.94,"color":"#000"},{"offset":0.946,"color":"#000"},{"offset":0.946,"color":"transparent"},{"offset":0.96,"color":"transparent"},
{"offset":0.96,"color":"#000"},{"offset":0.966,"color":"#000"},{"offset":0.966,"color":"transparent"},{"offset":0.98,"color":"transparent"},
{"offset":0.98,"color":"#000"},{"offset":0.986,"color":"#000"},{"offset":0.986,"color":"transparent"},{"offset":1,"color":"transparent"}
]}}},
{"transform":[{"filter":"datum.s==='1 Mrad after'"}],"mark":{"type":"rule","color":"#000","strokeWidth":19,"strokeDash":[1.3,2.2],"strokeCap":"butt"},"encoding":{"y2":{"datum":0}}},
{"transform":[{"filter":"datum.s==='5 Mrad after'"}],"mark":{"type":"rule","color":"#000","strokeWidth":19,"strokeDash":[1.2,2.2],"strokeCap":"butt"},"encoding":{"y2":{"datum":0}}},
{"transform":[{"filter":"datum.s==='200 krad before'"}],"mark":{"type":"rule","color":"#000","strokeWidth":19,"strokeDash":[1.4,5.2],"strokeCap":"butt"},"encoding":{"y2":{"datum":0}}},
{"mark":{"type":"bar","fillOpacity":0,"stroke":"#222","strokeWidth":1}}
]
}
],
"config":{
"view":{"stroke":null},
"axis":{"domainColor":"#000","domainWidth":2.5,"tickColor":"#000","tickWidth":2.5,"labelFont":"Liberation Serif","labelFontWeight":"bold","labelFontSize":24,"labelColor":"#000","titleFont":"Liberation Serif","titleFontWeight":"bold","titleFontSize":25,"titleColor":"#000","grid":false},
"title":{"font":"Liberation Serif","fontWeight":"bold","fontSize":30,"color":"#000","anchor":"end"}
}
}
